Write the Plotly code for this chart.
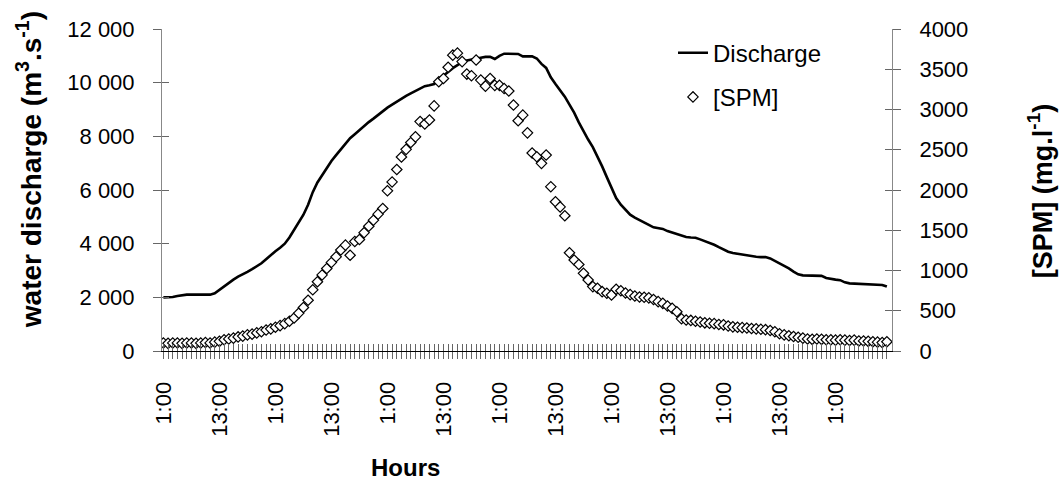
import plotly.graph_objects as go

# ---------------- data ----------------
hours = list(range(156))  # hourly samples, first sample at 1:00

tick_positions = list(range(0, 156, 12))
tick_labels = ["1:00", "13:00"] * 6 + ["1:00"]

discharge = [
    2000, 2000, 2010, 2050, 2080, 2100, 2100, 2100, 2100, 2100,
    2100, 2150, 2280, 2420, 2540, 2660, 2770, 2850, 2950, 3050,
    3150, 3270, 3420, 3580, 3720, 3850, 4000, 4230, 4530, 4800,
    5080, 5450, 5920, 6280, 6560, 6850, 7080, 7300, 7520, 7750,
    7930, 8080, 8230, 8400, 8530, 8660, 8800, 8950, 9070, 9180,
    9300, 9410, 9510, 9600, 9690, 9780, 9870, 9900, 9950, 10130,
    10250, 10400, 10540, 10650, 10760, 10830, 10870, 10910, 10930, 10960,
    10960, 10880, 11000, 11080, 11080, 11080, 11070, 10980, 10980, 10980,
    10900, 10700, 10550, 10200, 9950, 9700, 9480, 9180, 8880, 8520,
    8180, 7880, 7600, 7260, 6880, 6480, 6060, 5700, 5450, 5250,
    5080, 4970, 4890, 4800, 4700, 4610, 4580, 4550, 4470, 4420,
    4360, 4300, 4250, 4230, 4220, 4160, 4100, 4040, 3960, 3870,
    3780, 3700, 3650, 3620, 3590, 3560, 3530, 3510, 3500, 3500,
    3450, 3360, 3250, 3170, 3080, 2960, 2860, 2820, 2820, 2820,
    2820, 2800, 2720, 2680, 2660, 2640, 2560, 2520, 2510, 2500,
    2500, 2480, 2470, 2460, 2460, 2400,
]

spm = [
    100, 95, 100, 100, 95, 100, 100, 95, 100, 105,
    100, 110, 120, 140, 150, 160, 175, 185, 200, 210,
    225, 240, 260, 275, 295, 315, 340, 370, 410, 470,
    540, 630, 760, 860, 945, 1025, 1100, 1170, 1255, 1315,
    1190, 1360, 1385, 1470, 1550, 1625, 1700, 1770, 1990, 2100,
    2255, 2410, 2505, 2590, 2660, 2850, 2820, 2870, 3045, 3345,
    3385, 3525, 3675, 3700, 3595, 3440, 3420, 3615, 3365, 3290,
    3385, 3300, 3300, 3260, 3230, 3055, 2860, 2930, 2710, 2460,
    2413, 2331, 2434, 2041, 1854, 1790, 1680, 1221, 1130, 1075,
    965, 882, 800, 779, 737, 717, 696, 766, 749, 720,
    700, 683, 670, 667, 660, 640, 613, 592, 559, 530,
    488, 400, 385, 380, 370, 360, 350, 345, 340, 330,
    325, 310, 300, 295, 290, 285, 280, 275, 270, 265,
    255, 240, 215, 200, 190, 180, 170, 160, 150, 145,
    150, 145, 140, 140, 135, 140, 135, 130, 135, 125,
    125, 120, 115, 110, 105, 115,
]

# ---------------- figure ----------------
FONT = "Liberation Sans, Arial, sans-serif"
x_range = [-0.3, 156.1]
label_map = dict(zip(tick_positions, tick_labels))
all_ticktext = [label_map.get(h, "") for h in hours]

fig = go.Figure()
fig.add_trace(go.Scatter(
    x=hours, y=discharge, mode="lines", name="Discharge",
    line=dict(color="black", width=2.6), legendgroup="q",
))
fig.add_trace(go.Scatter(
    x=hours, y=spm, mode="markers", name="[SPM]", xaxis="x2", yaxis="y2",
    marker=dict(symbol="diamond", size=8, color="white",
                line=dict(color="black", width=1.2)),
    legendgroup="s",
))
# carrier traces (draw nothing) so the inner tick-mark axes get rendered
fig.add_trace(go.Scatter(x=hours, y=discharge, mode="none", yaxis="y3",
                         showlegend=False, hoverinfo="skip"))
fig.add_trace(go.Scatter(x=hours, y=spm, mode="none", yaxis="y4",
                         showlegend=False, hoverinfo="skip"))

fig.update_layout(
    width=1062, height=491,
    margin=dict(l=162, r=170, t=29, b=140),
    paper_bgcolor="white", plot_bgcolor="white",
    separators=". ",
    font=dict(family=FONT, color="black", size=22),
    showlegend=True,
    legend=dict(x=0.70, y=0.995, xanchor="left", yanchor="top",
                bgcolor="rgba(0,0,0,0)", font=dict(size=24, family=FONT),
                tracegroupgap=10),
    xaxis=dict(
        range=x_range, tickmode="array", tickvals=hours, ticktext=all_ticktext,
        tickangle=-90, ticks="outside", ticklen=7, tickcolor="#666", tickwidth=1,
        showline=True, linecolor="black", linewidth=1,
        showgrid=False, zeroline=False, tickfont=dict(size=22),
        ticklabelstandoff=14,
    ),
    xaxis2=dict(
        range=x_range, overlaying="x", anchor="y2", side="bottom",
        tickmode="array", tickvals=hours, ticks="inside", ticklen=7,
        tickcolor="#666", tickwidth=1, showticklabels=False,
        showline=False, showgrid=False, zeroline=False,
    ),
    yaxis=dict(
        range=[0, 12000], dtick=2000, tick0=0, ticks="outside", ticklen=8,
        tickcolor="#666", showline=True, linecolor="#888", linewidth=1,
        showgrid=False, zeroline=False, tickformat=",d",
        tickfont=dict(size=22), ticklabelstandoff=14,
    ),
    yaxis3=dict(
        range=[0, 12000], dtick=2000, tick0=0, overlaying="y", anchor="x",
        side="left", ticks="inside", ticklen=7, tickcolor="#666",
        showticklabels=False, showline=False, showgrid=False, zeroline=False,
    ),
    yaxis2=dict(
        range=[0, 4000], dtick=500, tick0=0, overlaying="y", side="right",
        anchor="x2", ticks="outside", ticklen=8, tickcolor="#666",
        showline=True, linecolor="#888", linewidth=1,
        showgrid=False, zeroline=False, tickformat="d", tickfont=dict(size=22),
        ticklabelstandoff=14,
    ),
    yaxis4=dict(
        range=[0, 4000], dtick=500, tick0=0, overlaying="y", anchor="x",
        side="right", ticks="inside", ticklen=7, tickcolor="#666",
        showticklabels=False, showline=False, showgrid=False, zeroline=False,
    ),
    annotations=[
        dict(text="<b>water discharge (m<sup>3</sup>.s<sup>-1</sup>)</b>",
             xref="paper", yref="paper", x=-0.182, y=0.562, textangle=-90,
             xanchor="center", yanchor="middle", showarrow=False,
             font=dict(size=28, family=FONT)),
        dict(text="<b>[SPM] (mg.l<sup>-1</sup>)</b>",
             xref="paper", yref="paper", x=1.203, y=0.497, textangle=-90,
             xanchor="center", yanchor="middle", showarrow=False,
             font=dict(size=27, family=FONT)),
        dict(text="<b>Hours</b>",
             xref="paper", yref="paper", x=0.333, y=-0.363,
             xanchor="center", yanchor="middle", showarrow=False,
             font=dict(size=24, family=FONT)),
    ],
)

fig.write_html("out.html", config={"displayModeBar": False},
               post_script="document.body.style.margin='0';")
